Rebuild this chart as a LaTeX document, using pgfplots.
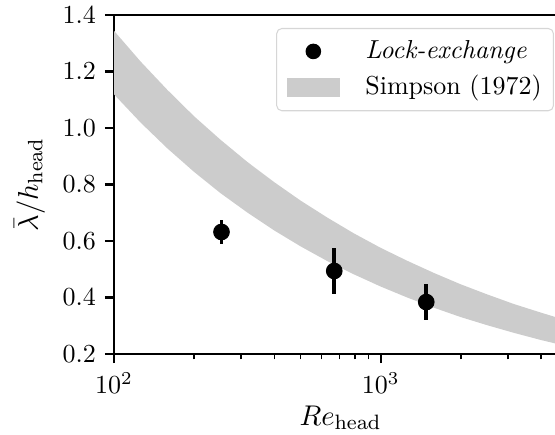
\documentclass[border=0pt]{standalone}
\usepackage{amsmath}
\usepackage{pgfplots}
\pgfplotsset{compat=1.18}
\definecolor{bandgray}{RGB}{204,204,204}
\definecolor{legframe}{RGB}{214,214,214}

\begin{document}
\begin{tikzpicture}
\begin{axis}[
  name=ax,
  xmode=log,
  scale only axis,
  width=174.2pt, height=130.4pt,
  xmin=100, xmax=5000,
  ymin=0.2, ymax=1.4,
  xtick={100,1000},
  minor xtick={200,300,400,500,600,700,800,900,2000,3000,4000,5000},
  ytick={0.2,0.4,...,1.4},
  yticklabel style={/pgf/number format/.cd, fixed, fixed zerofill, precision=1},
  tick align=outside,
  tick pos=left,
  major tick length=3.5pt,
  minor tick length=2pt,
  axis line style={line width=0.8pt},
  major tick style={line width=0.8pt, black},
  minor tick style={line width=0.6pt, black},
  tick label style={font=\normalsize},
  xlabel={\fontsize{10.95}{13}\selectfont $Re_{\mathrm{head}}$},
  xlabel style={at={([yshift=-27.3pt]axis description cs:0.5,0)}, anchor=base},
  ylabel={\fontsize{10.95}{13}\selectfont $\bar{\lambda}/h_{\mathrm{head}}$},
  ylabel style={at={([xshift=-32.5pt]axis description cs:0,0.5)}, anchor=center},
  legend cell align=left,
  reverse legend,
  legend style={at={(rel axis cs:0.9713,0.9617)}, anchor=north east,
    draw=legframe, rounded corners=2pt, font=\normalsize,
    inner xsep=4pt, inner ysep=2.6pt, column sep=9.4pt, row sep=1pt,
    nodes={inner xsep=0.5pt}},
]
% Simpson (1972) band
\addplot[fill=bandgray, draw=none,
  legend image code/.code={\fill[bandgray, draw=none, sharp corners] (0pt,-3.65pt) rectangle (20.2pt,3.65pt);}]
  coordinates {
  (100,1.344) (125.9,1.235) (158.5,1.135) (199.5,1.042) (251.2,0.958)
  (316.2,0.880) (398.1,0.809) (501.2,0.743) (631.0,0.683) (794.3,0.627)
  (1000,0.576) (1258.9,0.530) (1584.9,0.487) (1995.3,0.447) (2511.9,0.411)
  (3162.3,0.377) (3981.1,0.347) (5000,0.3185)
  (5000,0.2276) (3981.1,0.250) (3162.3,0.275) (2511.9,0.302) (1995.3,0.331)
  (1584.9,0.364) (1258.9,0.400) (1000,0.439) (794.3,0.482) (631.0,0.529)
  (501.2,0.581) (398.1,0.638) (316.2,0.701) (251.2,0.769) (199.5,0.845)
  (158.5,0.928) (125.9,1.019) (100,1.119)
} -- cycle;
\addlegendentry{Simpson (1972)}

% lock-exchange measurements
\addplot[only marks, mark=*, mark size=3pt, black,
  legend image code/.code={\fill[black, draw=none] (10.1pt,0pt) circle (3pt);},
  error bars/.cd, y dir=both, y explicit,
  error bar style={line width=1.5pt}, error mark=none]
  coordinates {
  (253,0.632) +- (0,0.043)
  (670,0.494) +- (0,0.081)
  (1483,0.384) +- (0,0.063)
};
\addlegendentry{\textit{Lock-exchange}}
\end{axis}
\pgfresetboundingbox
\path[use as bounding box] ([shift={(-43.85pt,-30.77pt)}]ax.south west)
  rectangle ([shift={(-4.6pt,5.77pt)}]ax.north east);
\end{tikzpicture}
\end{document}
